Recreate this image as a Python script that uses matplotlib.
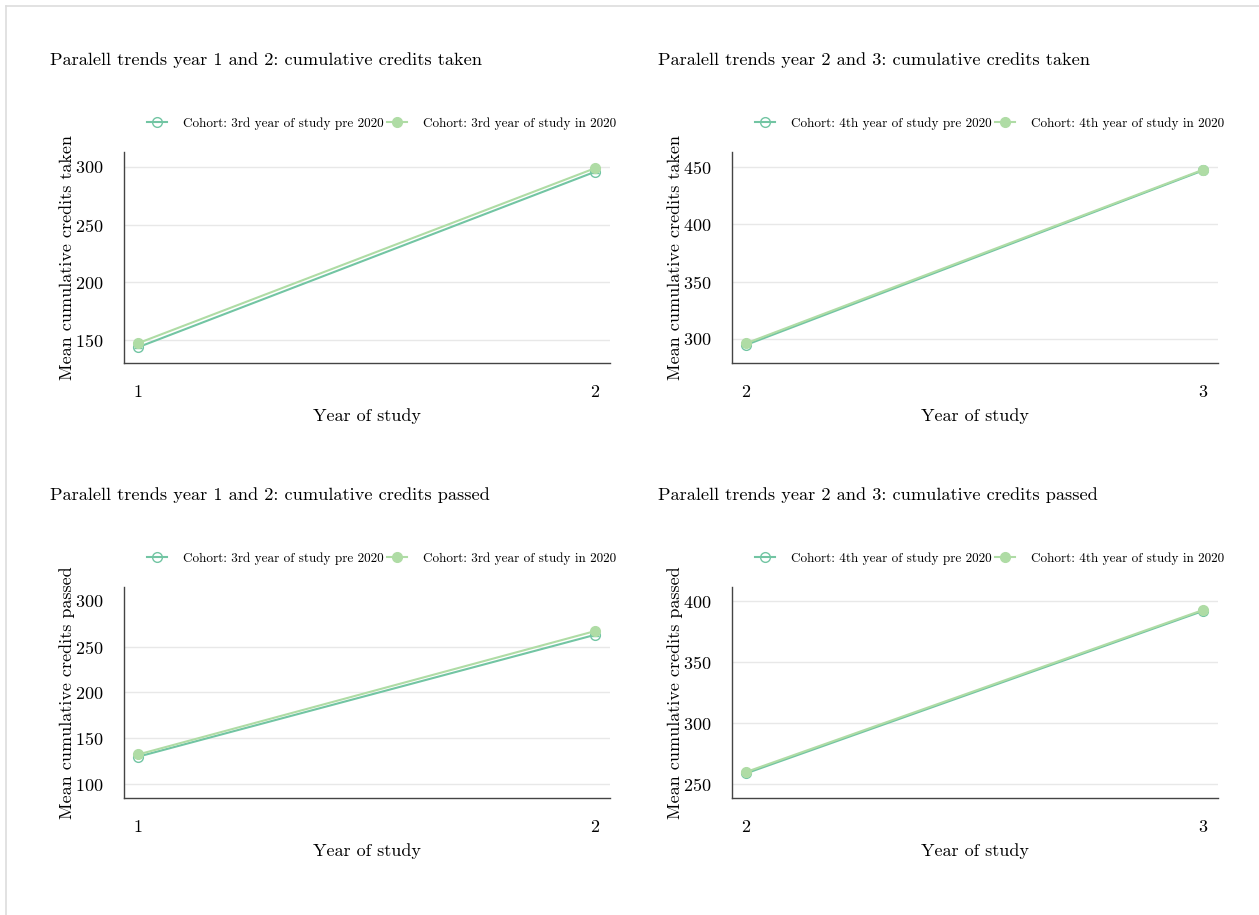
import matplotlib
matplotlib.use("Agg")
import matplotlib.pyplot as plt
from matplotlib.lines import Line2D

plt.rcParams["font.family"] = "serif"
plt.rcParams["font.serif"] = ["cmr10"]
plt.rcParams["axes.formatter.use_mathtext"] = True
plt.rcParams["mathtext.fontset"] = "cm"

PRE_C = "#72c5a3"
IN_C = "#afdca5"

# panel data: years, pre-2020 cohort mean, 2020 cohort mean, error half-widths
titles = ["Paralell trends year 1 and 2: cumulative credits taken",
          "Paralell trends year 2 and 3: cumulative credits taken",
          "Paralell trends year 1 and 2: cumulative credits passed",
          "Paralell trends year 2 and 3: cumulative credits passed"]
ylabels = ["Mean cumulative credits taken", "Mean cumulative credits taken",
           "Mean cumulative credits passed", "Mean cumulative credits passed"]
pre_labels = ["Cohort: 3rd year of study pre 2020", "Cohort: 4th year of study pre 2020",
              "Cohort: 3rd year of study pre 2020", "Cohort: 4th year of study pre 2020"]
in_labels = ["Cohort: 3rd year of study in 2020", "Cohort: 4th year of study in 2020",
             "Cohort: 3rd year of study in 2020", "Cohort: 4th year of study in 2020"]
years = [[1, 2], [2, 3], [1, 2], [2, 3]]
pre_vals = [[143.7, 295.7], [294.8, 446.8], [129.9, 262.9], [258.8, 391.8]]
in_vals = [[147.2, 298.8], [296.2, 447.4], [132.3, 267.0], [259.9, 392.6]]
pre_err = [[0.8, 1.2], [0.8, 1.5], [0.8, 1.2], [1.2, 2.8]]
in_err = [[0.8, 1.2], [0.8, 1.5], [0.8, 1.2], [1.2, 2.8]]
yticks = [[150, 200, 250, 300], [300, 350, 400, 450], [100, 150, 200, 250, 300], [250, 300, 350, 400]]
grid_vals = [[150, 200, 250, 300], [300, 350, 400, 450], [100, 150, 200, 250], [250, 300, 350, 400]]
ylims = [(129.8, 313.0), (278.8, 463.0), (84.4, 315.2), (238.3, 411.5)]

fig = plt.figure(figsize=(12.59, 9.15), dpi=100)
# light border of the original screenshot
fig.add_artist(Line2D([0.0045, 0.0045], [0, 0.9935], color="#dddddd", lw=1.2))
fig.add_artist(Line2D([0.0045, 1], [0.9935, 0.9935], color="#dddddd", lw=1.2))

lefts = [0.0985, 0.5814, 0.0985, 0.5814]
bottoms = [0.603, 0.603, 0.1275, 0.1275]
title_xy = [(50, 60), (658, 60), (50, 495), (658, 495)]

for i in range(4):
    ax = fig.add_axes([lefts[i], bottoms[i], 0.386, 0.231])
    for g in grid_vals[i]:
        ax.axhline(g, color="#e8e8e8", lw=1.0, zorder=0)
    ax.errorbar(years[i], pre_vals[i], yerr=pre_err[i], color=PRE_C, lw=1.5,
                marker="o", markersize=7, markerfacecolor="none", markeredgecolor=PRE_C,
                capsize=3, zorder=2)
    ax.errorbar(years[i], in_vals[i], yerr=in_err[i], color=IN_C, lw=1.5,
                marker="o", markersize=7, capsize=3, zorder=3)
    ax.set_xlim(years[i][0] - 0.031, years[i][1] + 0.033)
    ax.set_ylim(*ylims[i])
    ax.set_xticks(years[i])
    ax.set_yticks(yticks[i])
    ax.tick_params(length=0, pad=15, labelsize=13)
    for s in ("top", "right"):
        ax.spines[s].set_visible(False)
    for s in ("left", "bottom"):
        ax.spines[s].set_color("#444444")
        ax.spines[s].set_linewidth(1.0)
    ax.set_xlabel("Year of study", fontsize=13, labelpad=6)
    ax.set_ylabel(ylabels[i], fontsize=13)
    ax.yaxis.set_label_coords(-0.101, 0.5)
    handles = [Line2D([], [], color=PRE_C, lw=1.5, marker="o", markersize=7,
                      markerfacecolor="none", markeredgecolor=PRE_C),
               Line2D([], [], color=IN_C, lw=1.5, marker="o", markersize=7)]
    ax.legend(handles, [pre_labels[i], in_labels[i]], loc="center",
              bbox_to_anchor=(0.53, 1.135), ncol=2, frameon=False,
              fontsize=9.5, columnspacing=0.3, handletextpad=1.2, handlelength=1.5)
    fig.text(title_xy[i][0] / 1259, 1 - title_xy[i][1] / 915, titles[i],
             fontsize=13.2, ha="left", va="center")

fig.savefig("out.png", dpi=100)
